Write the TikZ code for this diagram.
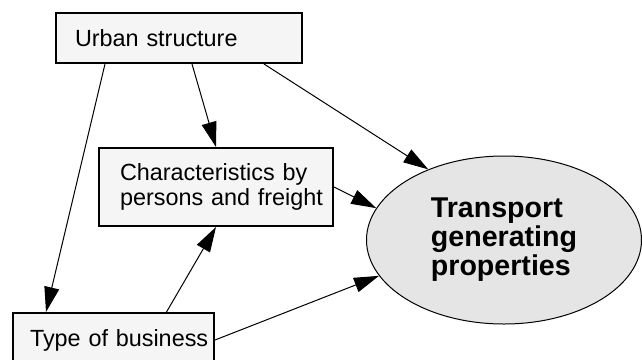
\documentclass[tikz,border=0pt]{standalone}
\usepackage{fontspec}
\setmainfont{Liberation Sans}
\usepackage{tikz}
\usetikzlibrary{shapes.geometric, arrows.meta}
\tikzstyle{box} = [rectangle, draw=black, line width=1pt, fill=gray!8, align=left, font=\fontsize{11.7}{12.5}\selectfont]
\tikzstyle{target} = [ellipse, draw=black, line width=0.5pt, fill=gray!20, minimum width=137.5pt, minimum height=84pt, align=left, font=\fontsize{14.3}{14.5}\selectfont\bfseries]
\tikzstyle{arrow} = [line width=0.5pt, -{Triangle[length=12.5pt,width=7.5pt]}]

\begin{document}
\begin{tikzpicture}[x=1pt, y=1pt]
\useasboundingbox (0,0) rectangle (321,-179.5);
\node (urban) [box, inner xsep=9.5pt, text width=104pt, minimum height=25pt] at (89.5,-19) {\mbox{Urban structure}};
\node (char) [box, inner xsep=10.5pt, text width=96pt, minimum height=39pt] at (108,-93.5) {\mbox{Characteristics by}\\\mbox{persons and freight}};
\node (type) [box, inner xsep=8.5pt, text width=83.5pt, minimum height=27pt] at (56.75,-170) {\mbox{Type of business}};
\node (tgp) [target] at (252,-120) {Transport\\generating\\properties};
\draw [arrow] ([xshift=-37pt]urban.south) -- ([xshift=-33.75pt]type.north);
\draw [arrow] ([xshift=6.5pt]urban.south) -- (char.north);
\draw [arrow] ([xshift=42.5pt]urban.south) -- (tgp.137);
\draw [arrow] (char.east) -- (tgp.166);
\draw [arrow] ([xshift=26.5pt]type.north) -- (char.south);
\draw [arrow] (type.east) -- (tgp.196);
\end{tikzpicture}
\end{document}
